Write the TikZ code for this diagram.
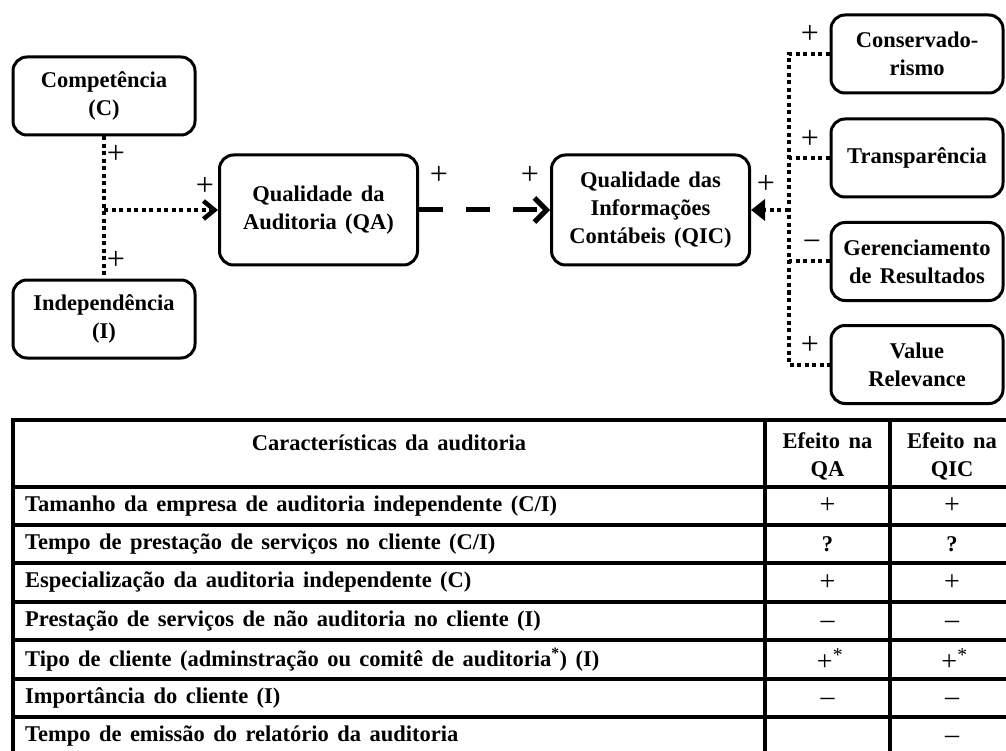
\documentclass[tikz,border=0pt]{standalone}
\usepackage{fontspec}
\setmainfont{Liberation Serif}[WordSpace=1.5]
\usetikzlibrary{arrows.meta}
\begin{document}
\begin{tikzpicture}[x=1pt,y=-1pt,
  box/.style={draw, line width=3pt, rounded corners=14pt, align=center,
    font=\bfseries\fontsize{22.5}{28}\selectfont, inner sep=0pt},
  lbox/.style={box, minimum width=182pt, minimum height=78pt},
  mbox/.style={box, minimum width=198pt, minimum height=110pt},
  rbox/.style={box, minimum width=172pt, minimum height=78pt},
  dotline/.style={line width=4pt, dash pattern=on 4pt off 3.5pt},
  sign/.style={font=\fontsize{32}{32}\selectfont, inner sep=0pt},
  cell/.style={font=\bfseries\fontsize{22.5}{28}\selectfont, inner sep=0pt, anchor=west},
  head/.style={font=\bfseries\fontsize{22.5}{28}\selectfont, inner sep=0pt, align=center},
  sym/.style={font=\fontsize{28}{28}\selectfont, inner sep=0pt},
  dsym/.style={font=\fontsize{28}{28}\selectfont, inner sep=0pt, anchor=base},
  qsym/.style={font=\bfseries\fontsize{22.5}{28}\selectfont, inner sep=0pt},
  grid/.style={line width=3.5pt}
]
\useasboundingbox (0,0) rectangle (1006,751);
\clip (0,0) rectangle (1006,751);

% boxes
\node[lbox] (C) at (104,96) {Competência\\(C)};
\node[lbox] (I) at (104,319) {Independência\\(I)};
\node[mbox] (QA) at (318.5,210) {Qualidade da\\Auditoria (QA)};
\node[mbox] (QIC) at (650.5,210) {Qualidade das\\Informações\\Contábeis (QIC)};
\node[rbox] (R1) at (917,54) {Conservado-\\rismo};
\node[rbox] (R2) at (917,158) {Transparência};
\node[rbox] (R3) at (917,261.5) {Gerenciamento\\de Resultados};
\node[rbox] (R4) at (917,364.5) {Value\\Relevance};

% left connectors
\draw[dotline] (C.south) -- (I.north);
\coordinate (J) at (C.south |- QA.west);
\draw[dotline, -{Straight Barb[length=11pt,width=18pt,line width=4.5pt]}] (J) -- (QA.west);

% QA -> QIC
\draw[line width=5pt, dash pattern=on 24pt off 23pt,
  -{Straight Barb[length=12pt,width=24pt,line width=5pt]}] (QA.east) -- (QIC.west);

% right connectors
\coordinate (busT) at ([xshift=-41pt]R1.west);
\coordinate (busB) at ([xshift=-41pt]R4.west);
\draw[dotline] (R1.west) -- (busT) -- (busB) -- (R4.west);
\draw[dotline] (R2.west) -- (R2.west -| busT);
\draw[dotline] (R3.west) -- (R3.west -| busT);
\draw[dotline, -{Triangle[length=14pt,width=21pt]}] (QIC.east -| busT) -- (QIC.east);

% signs
\node[sign] (s1) at (116,154) {+};
\node[sign] (s2) at (116,260) {+};
\node[sign] (s3) at (205,186) {+};
\node[sign] (s4) at (439,175) {+};
\node[sign] (s5) at (530,175) {+};
\node[sign] (s6) at (766,184) {+};
\node[sign] (s7) at (810,34) {+};
\node[sign] (s8) at (810,139) {+};
\node[sign] (s9) at (812,246) {−};
\node[sign] (s10) at (810,345) {+};

% table grid
\foreach \yy in {420,487,525,563,602,640,679,717,755}
  \draw[grid] (11.25,\yy) -- (1016,\yy);
\foreach \xx in {13,765,890,1014}
  \draw[grid] (\xx,418.25) -- (\xx,760);

% header
\node[head] (h1) at (389,443) {Características da auditoria};
\node[head] (h2) at (827.5,456) {Efeito na\\QA};
\node[head] (h3) at (952,456) {Efeito na\\QIC};

% rows
\node[cell] (t1) at (25,506) {Tamanho da empresa de auditoria independente (C/I)};
\node[cell] (t2) at (25,544) {Tempo de prestação de serviços no cliente (C/I)};
\node[cell] (t3) at (25,582.5) {Especialização da auditoria independente (C)};
\node[cell] (t4) at (25,621) {Prestação de serviços de não auditoria no cliente (I)};
\node[cell] (t5) at (25,659.5) {Tipo de cliente (adminstração ou comitê de auditoria\textsuperscript{*}) (I)};
\node[cell] (t6) at (25,698) {Importância do cliente (I)};
\node[cell] (t7) at (25,736) {Tempo de emissão do relatório da auditoria};

\node[sym] (a1) at (827.5,506) {+};
\node[sym] (b1) at (952,506) {+};
\node[qsym] (a2) at (827.5,544) {?};
\node[qsym] (b2) at (952,544) {?};
\node[sym] (a3) at (827.5,582.5) {+};
\node[sym] (b3) at (952,582.5) {+};
\node[dsym] (a4) at (827.5,628) {–};
\node[dsym] (b4) at (952,628) {–};
\node[sym] (a5) at (830,659.5) {+\textsuperscript{*}};
\node[sym] (b5) at (954.5,659.5) {+\textsuperscript{*}};
\node[dsym] (a6) at (827.5,705) {–};
\node[dsym] (b6) at (952,705) {–};
\node[dsym] (b7) at (952,743) {–};
\end{tikzpicture}
\end{document}
